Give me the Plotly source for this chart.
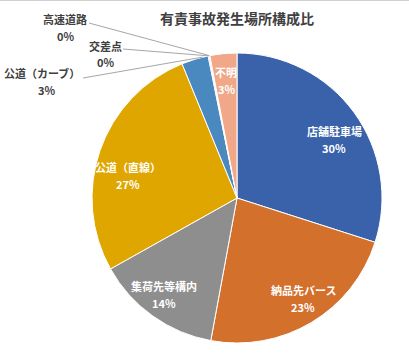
import math
import plotly.graph_objects as go

# ---- data ----
categories = ["店舗駐車場", "納品先バース", "集荷先等構内", "公道（直線）",
              "公道（カーブ）", "交差点", "高速道路", "不明"]
values = [30, 23, 14, 27, 3, 0.1, 0.1, 3]
pct_labels = ["30%", "23%", "14%", "27%", "3%", "0%", "0%", "3%"]
colors = ["#3A62AA", "#D2702C", "#8E8E8E", "#E0A600",
          "#4A88C0", "#7F7F7F", "#A5A5A5", "#F0A888"]
title = "有責事故発生場所構成比"

W, H = 409, 360
CX, CY, R = 237, 198, 145  # pie centre / radius in px

def px(x):
    return x / W

def py(y):
    return 1 - y / H

fig = go.Figure(go.Pie(
    labels=categories, values=values, sort=False, direction="clockwise",
    rotation=0, textinfo="none", hoverinfo="label+percent",
    marker=dict(colors=colors, line=dict(color="white", width=1)),
    domain=dict(x=[px(CX - R), px(CX + R)], y=[py(CY + R), py(CY - R)]),
    showlegend=False,
))

FAM = "Noto Sans CJK JP"
font_in = dict(family=FAM, size=11, color="white")
font_out = dict(family=FAM, size=11, color="#404040")

def ann(text, x, y, font):
    return dict(text="<b>" + text + "</b>", x=px(x), y=py(y), xref="paper", yref="paper",
                xanchor="center", yanchor="middle", showarrow=False, font=font)

annotations = [ann(title, 237, 18, dict(family=FAM, size=14, color="#404040"))]

# inside label positions (px): name centre, pct below
inside_pos = {0: (334, 131), 1: (303, 290), 2: (164, 286), 3: (128, 167), 7: (226, 72)}
for i, (x, y) in inside_pos.items():
    annotations.append(ann(categories[i], x, y, font_in))
    annotations.append(ann(pct_labels[i], x, y + 17, font_in))

# outside labels: (name centre, pct centre, leader line start, fraction along slice)
outside = {
    6: ((65, 19), (65, 36), (89, 23), 0.5),
    5: ((105, 46), (105, 62), (123, 49), 0.5),
    4: ((42, 73), (46, 90), (83, 78), 0.8),
}
total = sum(values)
shapes = [dict(type="line", xref="paper", yref="paper", x0=0, x1=1, y0=py(0.5), y1=py(0.5),
               line=dict(color="#D0D0D0", width=1))]
for i, (npos, ppos, start, frac) in outside.items():
    annotations.append(ann(categories[i], npos[0], npos[1], font_out))
    annotations.append(ann(pct_labels[i], ppos[0], ppos[1], font_out))
    cum = sum(values[:i]) + frac * values[i]
    ang = 2 * math.pi * cum / total
    tx = CX + R * math.sin(ang)
    ty = CY - R * math.cos(ang)
    shapes.append(dict(type="line", xref="paper", yref="paper",
                       x0=px(start[0]), y0=py(start[1]), x1=px(tx), y1=py(ty),
                       line=dict(color="#A6A6A6", width=1)))

fig.update_layout(
    width=W, height=H, margin=dict(l=0, r=0, t=0, b=0),
    paper_bgcolor="white", plot_bgcolor="white",
    annotations=annotations, shapes=shapes,
)

fig.write_html("out.html", config={"displayModeBar": False},
               post_script="document.body.style.margin='0';")
